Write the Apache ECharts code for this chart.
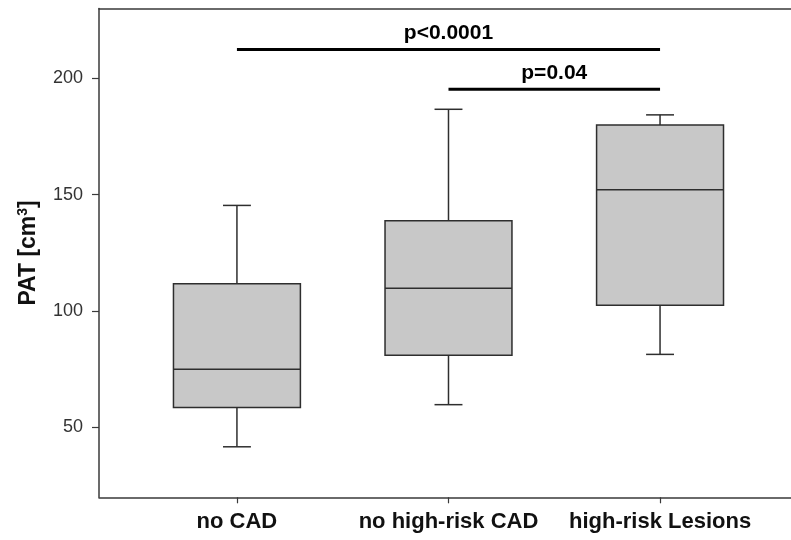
<!DOCTYPE html>
<html>
<head>
<meta charset="utf-8">
<script src="https://cdn.jsdelivr.net/npm/echarts@6/dist/echarts.min.js"></script>
<style>
html,body{margin:0;padding:0;background:#fff;}
#chart{width:791px;height:540px;}
</style>
</head>
<body>
<div id="chart"></div>
<script>
// ---- data ----
const categories = ['no CAD', 'no high-risk CAD', 'high-risk Lesions'];
const whiskerLow  = [41.7, 59.8, 81.4];
const q1          = [58.6, 81.0, 102.5];
const median      = [75.0, 109.8, 152.1];
const q3          = [111.7, 138.8, 180.0];
const whiskerHigh = [145.4, 186.7, 184.3];
const yTicks = [50, 100, 150, 200];
const sigFrom   = [0, 1];
const sigTo     = [2, 2];
const sigY      = [212.4, 195.3];
const sigLabels = ['p<0.0001', 'p=0.04'];

const FONT = "'Liberation Sans', Arial, Helvetica, sans-serif";

const boxData = categories.map((c, i) => [i, whiskerLow[i], q1[i], median[i], q3[i], whiskerHigh[i]]);
const sigData = sigFrom.map((f, i) => [f, sigTo[i], sigY[i], sigLabels[i]]);

function renderBox(params, api) {
  const x = api.value(0);
  const lo = api.coord([x, api.value(1)]);
  const b1 = api.coord([x, api.value(2)]);
  const md = api.coord([x, api.value(3)]);
  const b3 = api.coord([x, api.value(4)]);
  const hi = api.coord([x, api.value(5)]);
  const unit = api.size([1, 0])[0];
  const hw = unit * 0.30;
  const cw = unit * 0.066;
  const cx = lo[0];
  const st = { stroke: '#2e2e2e', lineWidth: 1.5, fill: null };
  return {
    type: 'group',
    children: [
      { type: 'line', shape: { x1: cx, y1: hi[1], x2: cx, y2: b3[1] }, style: st },
      { type: 'line', shape: { x1: cx, y1: b1[1], x2: cx, y2: lo[1] }, style: st },
      { type: 'line', shape: { x1: cx - cw, y1: hi[1], x2: cx + cw, y2: hi[1] }, style: st },
      { type: 'line', shape: { x1: cx - cw, y1: lo[1], x2: cx + cw, y2: lo[1] }, style: st },
      { type: 'rect', shape: { x: cx - hw, y: b3[1], width: hw * 2, height: b1[1] - b3[1] },
        style: { fill: '#c8c8c8', stroke: '#2e2e2e', lineWidth: 1.5 } },
      { type: 'line', shape: { x1: cx - hw, y1: md[1], x2: cx + hw, y2: md[1] }, style: st }
    ]
  };
}

function renderSig(params, api) {
  const a = api.coord([api.value(0), api.value(2)]);
  const b = api.coord([api.value(1), api.value(2)]);
  const label = sigLabels[params.dataIndex];
  return {
    type: 'group',
    children: [
      { type: 'line', shape: { x1: a[0], y1: a[1], x2: b[0], y2: b[1] },
        style: { stroke: '#000', lineWidth: 3 } },
      { type: 'text', x: (a[0] + b[0]) / 2, y: a[1] - 6,
        style: { text: label, fill: '#000', font: 'bold 21px ' + FONT, align: 'center', verticalAlign: 'bottom' } }
    ]
  };
}

const chart = echarts.init(document.getElementById('chart'), null, { renderer: 'canvas' });
chart.setOption({
  animation: false,
  backgroundColor: '#fff',
  grid: { left: 99, right: -2, top: 8.5, bottom: 42.7, containLabel: false },
  xAxis: [
    {
      type: 'value', position: 'bottom', min: -0.652, max: 2.619,
      axisLine: { show: true, onZero: false, lineStyle: { color: '#3a3a3a', width: 1.5 } },
      axisTick: { show: true, customValues: [0, 1, 2], length: 6, lineStyle: { color: '#3a3a3a', width: 1.2 } },
      axisLabel: { show: true, customValues: [0, 1, 2], formatter: v => categories[Math.round(v)],
        margin: 14, color: '#111', fontFamily: FONT, fontWeight: 'bold', fontSize: 22 },
      splitLine: { show: false }
    },
    {
      type: 'value', position: 'top', min: -0.652, max: 2.619,
      axisLine: { show: true, onZero: false, lineStyle: { color: '#3a3a3a', width: 1.5 } },
      axisTick: { show: false }, axisLabel: { show: false }, splitLine: { show: false }
    }
  ],
  yAxis: {
    type: 'value', min: 20, max: 230,
    name: '{a|PAT [cm}{s|3}{a|]}',
    nameLocation: 'middle', nameGap: 58, nameRotate: 90,
    nameTextStyle: {
      rich: {
        a: { fontFamily: FONT, fontWeight: 'bold', fontSize: 23, color: '#111', lineHeight: 25 },
        s: { fontFamily: FONT, fontWeight: 'bold', fontSize: 14, color: '#111', verticalAlign: 'top', lineHeight: 25 }
      }
    },
    axisLine: { show: true, onZero: false, lineStyle: { color: '#3a3a3a', width: 1.5 } },
    axisTick: { show: true, customValues: yTicks, length: 7, lineStyle: { color: '#3a3a3a', width: 1.2 } },
    axisLabel: { show: true, customValues: yTicks, margin: 16, color: '#333', fontFamily: FONT, fontSize: 18 },
    splitLine: { show: false }
  },
  series: [
    {
      type: 'custom', name: 'PAT', xAxisIndex: 0, yAxisIndex: 0,
      renderItem: renderBox, data: boxData,
      encode: { x: 0, y: [1, 2, 3, 4, 5] }, silent: true
    },
    {
      type: 'custom', name: 'sig', xAxisIndex: 0, yAxisIndex: 0,
      renderItem: renderSig, data: sigData,
      encode: { x: [0, 1], y: 2 }, silent: true
    }
  ]
});
</script>
</body>
</html>
